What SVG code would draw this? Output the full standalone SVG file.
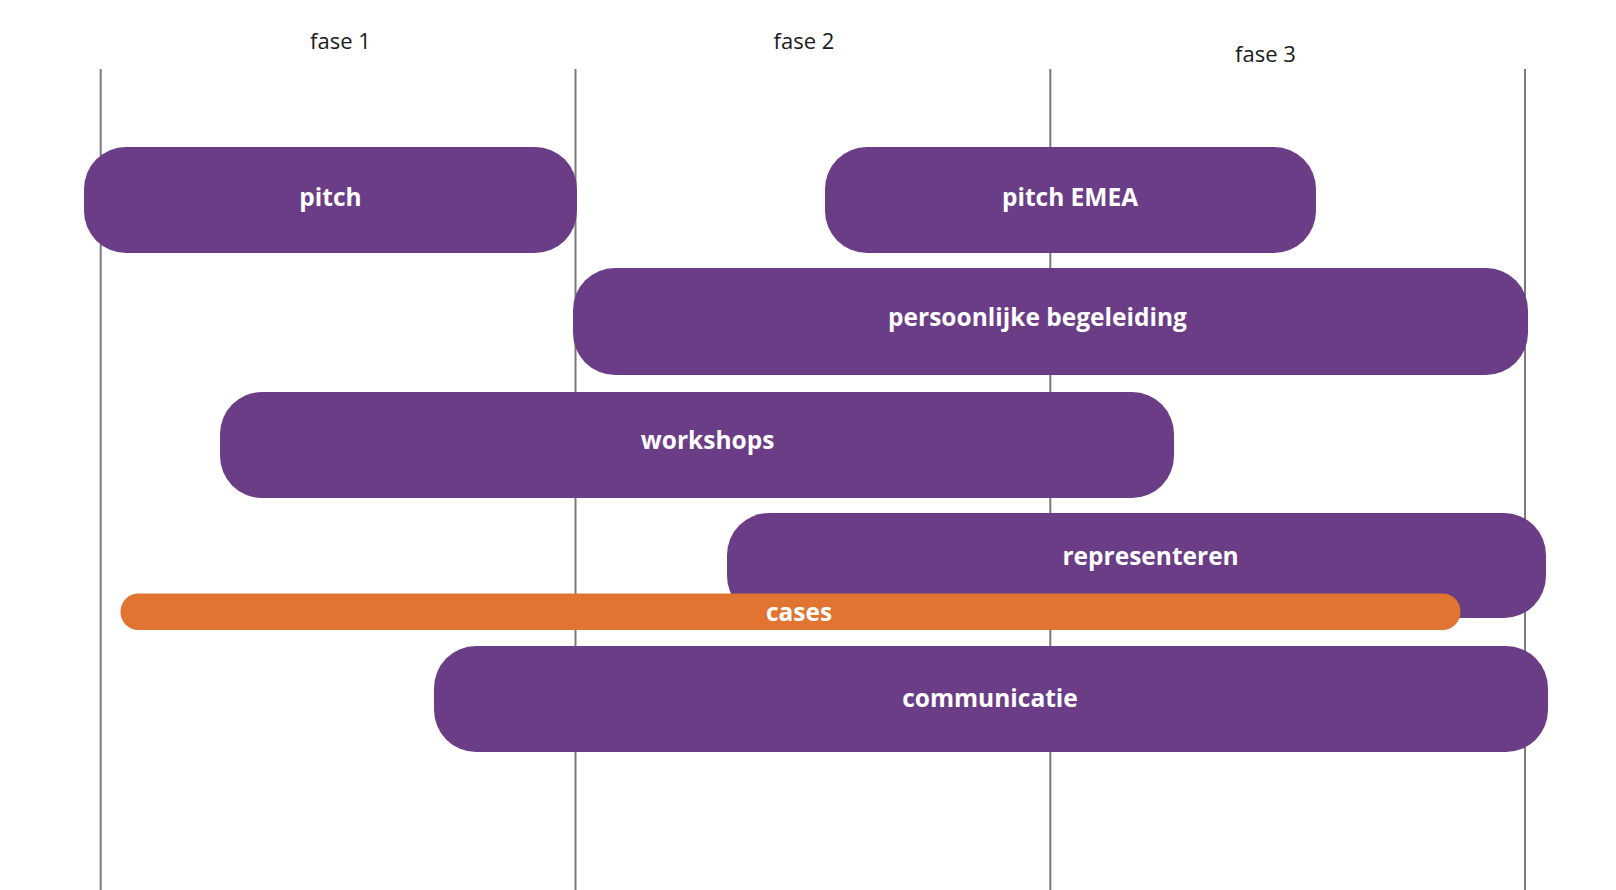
<svg xmlns="http://www.w3.org/2000/svg" width="1616" height="890" viewBox="0 0 1616 890">
<style>
.grid{stroke:#7a7a7a;stroke-width:2;fill:none}
.phase{font-family:"Open Sans","Liberation Sans",sans-serif;font-size:22px;fill:#1a1a1a;text-anchor:middle}
.bar{fill:#6B3D87}
.case{fill:#E07430}
.lbl{font-family:"Open Sans","Liberation Sans",sans-serif;font-size:24.5px;font-weight:700;fill:#ffffff;text-anchor:middle}
</style>
<rect width="1616" height="890" fill="#ffffff"/>
<g id="connectors">
<line class="grid" x1="100.7" y1="69" x2="100.7" y2="890"/>
<line class="grid" x1="575.5" y1="69" x2="575.5" y2="890"/>
<line class="grid" x1="1050.3" y1="69" x2="1050.3" y2="890"/>
<line class="grid" x1="1525" y1="69" x2="1525" y2="890"/>
</g>
<g id="phase-labels">
<text class="phase" x="340.5" y="49">fase 1</text>
<text class="phase" x="804" y="49">fase 2</text>
<text class="phase" x="1265.5" y="62">fase 3</text>
</g>
<g id="pitch"><rect class="bar" x="84" y="147" width="493" height="106" rx="42"/><text class="lbl" x="330.5" y="206">pitch</text></g>
<g id="pitch-emea"><rect class="bar" x="825" y="147" width="491" height="106" rx="42"/><text class="lbl" x="1070" y="206">pitch EMEA</text></g>
<g id="persoonlijke-begeleiding"><rect class="bar" x="573" y="268" width="955" height="107" rx="42"/><text class="lbl" x="1037.5" y="325.5">persoonlijke begeleiding</text></g>
<g id="workshops"><rect class="bar" x="220" y="392" width="954" height="106" rx="42"/><text class="lbl" x="707.6" y="449">workshops</text></g>
<g id="representeren"><rect class="bar" x="727" y="513" width="819" height="105" rx="42"/><text class="lbl" x="1150.6" y="565">representeren</text></g>
<g id="cases"><rect class="case" x="120.5" y="593.5" width="1340" height="36.5" rx="18"/><text class="lbl" x="799" y="620.5">cases</text></g>
<g id="communicatie"><rect class="bar" x="434" y="646" width="1114" height="106" rx="42"/><text class="lbl" x="990" y="706.5">communicatie</text></g>
</svg>
